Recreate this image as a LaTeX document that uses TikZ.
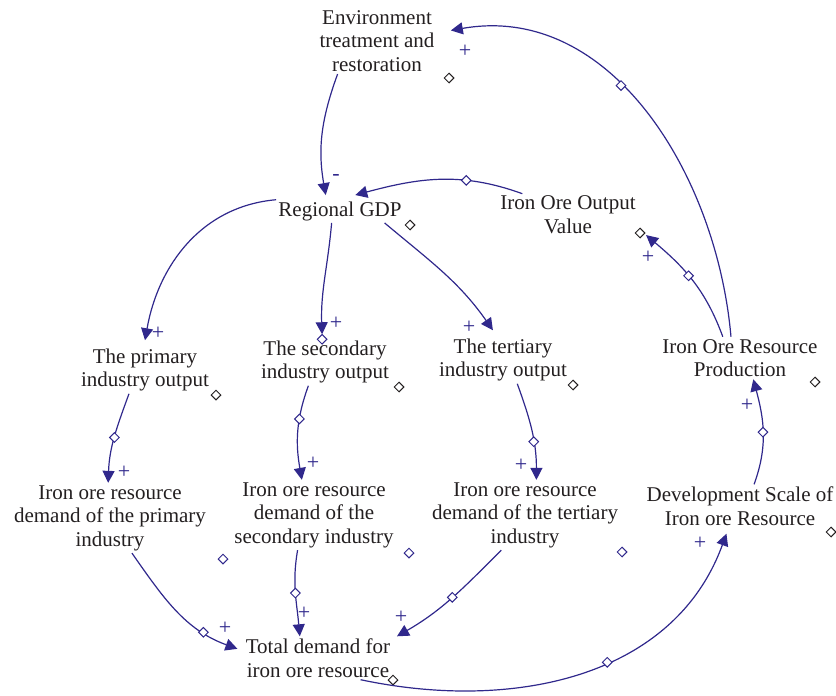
\documentclass[tikz,border=0pt]{standalone}
\usepackage{fontspec}
\setmainfont{Liberation Serif}
\usetikzlibrary{arrows.meta, shapes.geometric}

\definecolor{loopblue}{RGB}{48,40,140}
\definecolor{inkgray}{RGB}{35,31,32}

\tikzset{
	var/.style={align=center, inner sep=1pt, text=inkgray, font=\fontsize{10.5}{11.8}\selectfont},
	link/.style={draw=loopblue, line width=0.6pt, -{Triangle[length=6pt,width=6pt]}},
	valve/.style={diamond, draw=loopblue, fill=white, line width=0.5pt, inner sep=0pt, minimum size=5pt},
	hint/.style={diamond, draw=inkgray, fill=white, line width=0.5pt, inner sep=0pt, minimum size=5pt},
	bluehint/.style={hint, draw=loopblue},
	sign/.style={text=loopblue, inner sep=0pt, font=\fontsize{11}{11}\selectfont}
}

\begin{document}
\begin{tikzpicture}[x=0.5pt, y=-0.5pt]
		\useasboundingbox (0,0) rectangle (836,696);

		% variables
		\node[var] (env) at (377,41) {Environment\\treatment and\\restoration};
		\node[var] (gdp) at (340,211) {Regional GDP};
		\node[var] (value) at (568,215) {Iron Ore Output\\Value};
		\node[var] (prim) at (145,370) {The primary\\industry output};
		\node[var] (sec) at (325,362) {The secondary\\industry output};
		\node[var] (ter) at (503,360) {The tertiary\\industry output};
		\node[var] (prod) at (740,358) {Iron Ore Resource\\Production};
		\node[var] (dprim) at (110,518) {Iron ore resource\\demand of the primary\\industry};
		\node[var] (dsec) at (314,515) {Iron ore resource\\demand of the\\secondary industry};
		\node[var] (dter) at (525,515) {Iron ore resource\\demand of the tertiary\\industry};
		\node[var] (dev) at (740,506) {Development Scale of\\Iron ore Resource};
		\node[var] (total) at (318,658) {Total demand for\\iron ore resource};

		% small markers beside the variables
		\foreach \pt [count=\i] in {(449,78),(410,225),(640,233),(216,395),(399,387),(573,385),(815,382),(831,532),(393,680)}
			\node[hint] (hint\i) at \pt {};
		\foreach \pt [count=\i] in {(223,559),(409,553),(622,552)}
			\node[bluehint] (bhint\i) at \pt {};

		% causal links
		\draw[link] (env.220) to[out=250,in=100] ([yshift=2pt]gdp.140);
		\draw[link] (value.155) to[out=160,in=15] node[valve,pos=0.33] (v1) {} ([yshift=2pt]gdp.38);
		\draw[link] (prod.113) to[out=95,in=10] node[valve,pos=0.58] (v2) {} ([xshift=7pt]env.10);
		\draw[link] (prod.129) to[out=110,in=-40] node[valve,pos=0.55] (v3) {} ([xshift=4pt]value.-16);
		\draw[link] (gdp.170) to[out=185,in=80] ([yshift=3pt]prim.north);
		\draw[link] (gdp.235) to[out=265,in=92] node[valve,pos=1,yshift=-2.5pt] (v4) {} ([yshift=2pt]sec.97);
		\draw[link] (gdp.-15) to[out=-40,in=125] ([yshift=3pt]ter.113);
		\draw[link] (prim.236) to[out=250,in=88] node[valve,pos=0.5] (v5) {} (dprim.93);
		\draw[link] (sec.235) to[out=250,in=100] node[valve,pos=0.35] (v6) {} (dsec.109);
		\draw[link] (ter.-59) to[out=-70,in=90] node[valve,pos=0.62] (v7) {} (dter.72);
		\draw[link] (dprim.-58) to[out=-55,in=160] node[valve,pos=0.75] (v8) {} ([xshift=-3pt]total.173);
		\draw[link] (dsec.245) to[out=260,in=95] node[valve,pos=0.5] (v9) {} (total.130);
		\draw[link] (dter.236) to[out=225,in=30] node[valve,pos=0.5] (v10) {} ([xshift=4pt]total.17);
		\draw[link] (total.-27) to[out=-12,in=250] node[valve,pos=0.57] (v11) {} ([yshift=-3pt]dev.238);
		\draw[link] (dev.57) to[out=70,in=-75] node[valve,pos=0.5] (v12) {} (prod.-58);

		% polarities
		\node[sign] (s1) at (336,177) {-};
		\node[sign] (s2) at (465,51) {+};
		\node[sign] (s3) at (648,257) {+};
		\node[sign] (s4) at (158,333) {+};
		\node[sign] (s5) at (336,323) {+};
		\node[sign] (s6) at (469,327) {+};
		\node[sign] (s7) at (124,472) {+};
		\node[sign] (s8) at (313,463) {+};
		\node[sign] (s9) at (521,465) {+};
		\node[sign] (s10) at (225,628) {+};
		\node[sign] (s11) at (304,613) {+};
		\node[sign] (s12) at (401,617) {+};
		\node[sign] (s13) at (700,543) {+};
		\node[sign] (s14) at (747,405) {+};
	\end{tikzpicture}
\end{document}
